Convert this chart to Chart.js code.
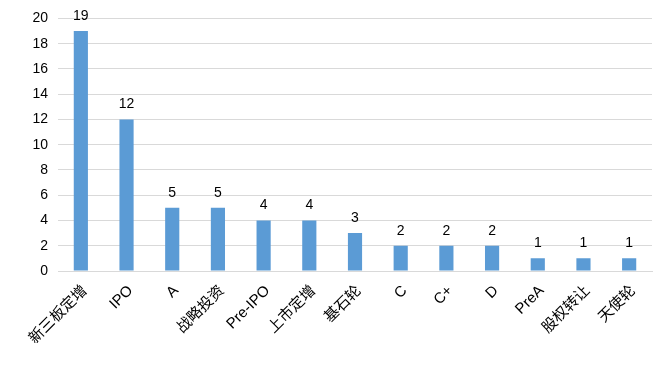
<!DOCTYPE html>
<html>
<head>
<meta charset="utf-8">
<script src="https://cdn.jsdelivr.net/npm/chart.js@4"></script>
<style>
  html, body { margin: 0; padding: 0; background: #fff; }
  #wrap { width: 672px; height: 369px; }
</style>
</head>
<body>
<div id="wrap"><canvas id="c"></canvas></div>
<script>
const categories = ["新三板定增", "IPO", "A", "战略投资", "Pre-IPO", "上市定增", "基石轮", "C", "C+", "D", "PreA", "股权转让", "天使轮"];
const counts = [19, 12, 5, 5, 4, 4, 3, 2, 2, 2, 1, 1, 1];
const yTicks = [0, 2, 4, 6, 8, 10, 12, 14, 16, 18, 20];

const FONT = "'Liberation Sans', 'Noto Sans CJK SC', sans-serif";

// numbers above the bars
const barLabels = {
  id: "barLabels",
  afterDatasetsDraw(chart) {
    const ctx = chart.ctx;
    const meta = chart.getDatasetMeta(0);
    ctx.save();
    ctx.font = "14px " + FONT;
    ctx.fillStyle = "#000";
    ctx.textAlign = "center";
    ctx.textBaseline = "bottom";
    meta.data.forEach((bar, i) => {
      ctx.fillText(String(counts[i]), bar.x, bar.y - 8);
    });
    ctx.restore();
  }
};

new Chart(document.getElementById("c"), {
  type: "bar",
  data: {
    labels: categories,
    datasets: [{
      data: counts,
      backgroundColor: "#5B9BD5",
      categoryPercentage: 1.0,
      barPercentage: 0.31
    }]
  },
  options: {
    responsive: true,
    maintainAspectRatio: false,
    animation: false,
    layout: { padding: { top: 12, right: 20, left: 0, bottom: 0 } },
    plugins: { legend: { display: false }, tooltip: { enabled: false } },
    scales: {
      x: {
        grid: { display: false, drawTicks: false },
        border: { color: "#d9d9d9", width: 1 },
        ticks: {
          color: "#000",
          font: { size: 15, family: FONT },
          minRotation: 45,
          maxRotation: 45,
          padding: 11,
          labelOffset: 4
        },
        afterFit(scale) { scale.height = 98; }
      },
      y: {
        min: 0,
        max: 20,
        afterBuildTicks(scale) { scale.ticks = yTicks.map(v => ({ value: v })); },
        grid: { color: "#d9d9d9", drawTicks: false },
        border: { display: false },
        ticks: {
          color: "#000",
          font: { size: 14, family: FONT },
          padding: 10
        },
        afterFit(scale) { scale.width = 58; }
      }
    }
  },
  plugins: [barLabels]
});
</script>
</body>
</html>
